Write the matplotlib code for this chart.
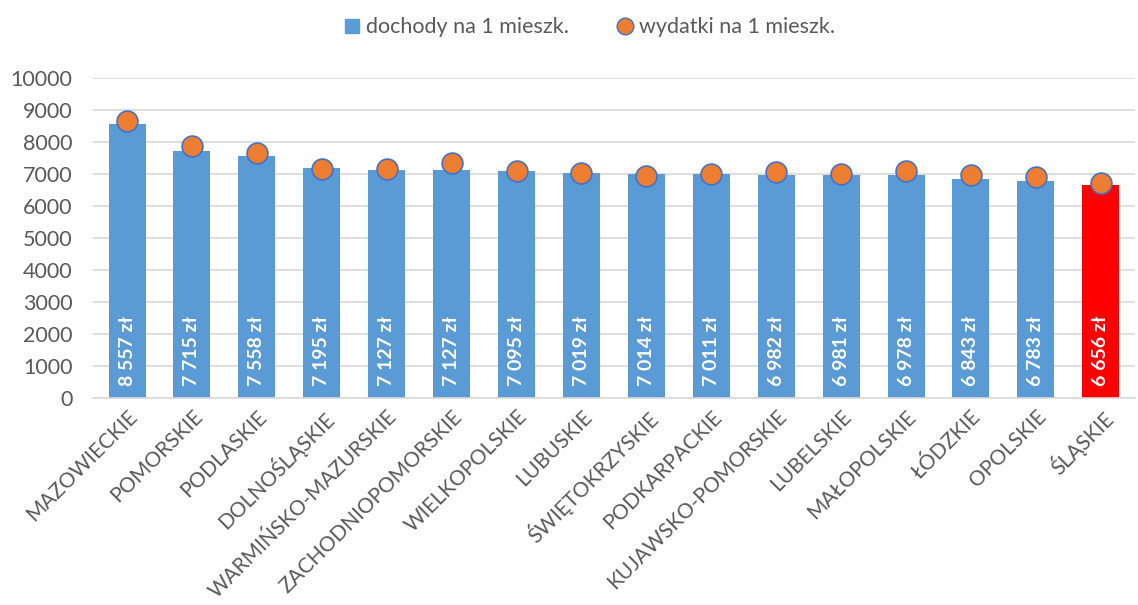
import matplotlib
matplotlib.use("Agg")
import matplotlib.pyplot as plt
from matplotlib.lines import Line2D

categories = ["MAZOWIECKIE", "POMORSKIE", "PODLASKIE", "DOLNOŚLĄSKIE", "WARMIŃSKO-MAZURSKIE",
              "ZACHODNIOPOMORSKIE", "WIELKOPOLSKIE", "LUBUSKIE", "ŚWIĘTOKRZYSKIE", "PODKARPACKIE",
              "KUJAWSKO-POMORSKIE", "LUBELSKIE", "MAŁOPOLSKIE", "ŁÓDZKIE", "OPOLSKIE", "ŚLĄSKIE"]
dochody = [8557, 7715, 7558, 7195, 7127, 7127, 7095, 7019, 7014, 7011, 6982, 6981, 6978, 6843, 6783, 6656]
wydatki = [8650, 7875, 7666, 7166, 7156, 7344, 7084, 7022, 6937, 6990, 7072, 7000, 7094, 6969, 6916, 6719]
highlight = "ŚLĄSKIE"

plt.rcParams['font.family'] = ['Lato', 'DejaVu Sans']

fig = plt.figure(figsize=(11.38, 6.05), dpi=100)
ax = fig.add_axes([0.082, 0.342, 0.915, 0.529])

x = list(range(len(categories)))
colors = ["#ff0000" if c == highlight else "#5b9bd5" for c in categories]
ax.bar(x, dochody, width=0.57, color=colors, zorder=2)
ax.plot(x, wydatki, linestyle="none", marker="o", markersize=15,
        markerfacecolor="#ed7d31", markeredgecolor="#4472c4", markeredgewidth=1.2, zorder=3)

for xi, v in zip(x, dochody):
    s = f"{v:,}".replace(",", " ") + " zł"
    ax.text(xi, 380, s, rotation=90, ha="center", va="bottom", color="white",
            fontsize=14, fontweight="bold", zorder=4)

ax.set_ylim(0, 10000)
ax.set_xlim(-0.52, len(categories) - 0.48)
ax.set_yticks(range(0, 10001, 1000))
ax.yaxis.grid(True, color="#d9d9d9", linewidth=1.2, zorder=0)
ax.set_axisbelow(True)
for sp in ["top", "right", "left"]:
    ax.spines[sp].set_visible(False)
ax.spines["bottom"].set_color("#d9d9d9")
ax.spines["bottom"].set_linewidth(1.2)
ax.tick_params(axis="y", length=0, labelsize=15.5, colors="#595959", pad=15)
ax.tick_params(axis="x", length=0, labelsize=15, colors="#595959", pad=6)
ax.set_xticks(x)
ax.set_xticklabels(categories, rotation=45, ha="right", rotation_mode="anchor")

handles = [Line2D([], [], linestyle="none", marker="s", markersize=10, markerfacecolor="#5b9bd5",
                  markeredgecolor="#5b9bd5", label="dochody na 1 mieszk."),
           Line2D([], [], linestyle="none", marker="o", markersize=12, markerfacecolor="#ed7d31",
                  markeredgecolor="#4472c4", label="wydatki na 1 mieszk.")]
leg = fig.legend(handles=handles, loc="center", bbox_to_anchor=(0.516, 0.955), ncol=2, frameon=False,
                 fontsize=15.5, handletextpad=0.05, columnspacing=2.0, handlelength=1.2)
for t in leg.get_texts():
    t.set_color("#595959")

fig.savefig("out.png", dpi=100)
